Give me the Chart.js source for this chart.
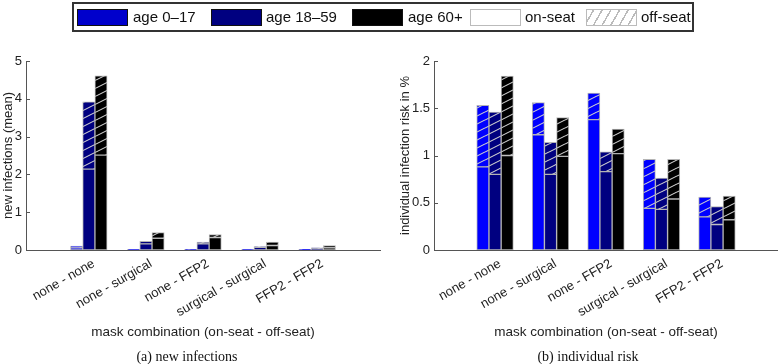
<!DOCTYPE html>
<html>
<head>
<meta charset="utf-8">
<script src="https://cdn.jsdelivr.net/npm/chart.js@4/dist/chart.umd.min.js"></script>
<style>
  body { margin: 0; background: #fff; }
  #wrap { position: relative; width: 778px; height: 364px; overflow: hidden; font-family: "Liberation Sans", Arial, sans-serif; }
  canvas { position: absolute; top: 0; }
  #legend { position: absolute; left: 72px; top: 2px; width: 622px; height: 30px; box-sizing: border-box; border: 2px solid #333; }
  .sw { position: absolute; top: 5px; width: 51px; height: 17px; box-sizing: border-box; }
  .lt { position: absolute; top: 4px; font-size: 15px; line-height: 18px; color: #111; white-space: nowrap; }
  .cap { position: absolute; top: 349px; width: 240px; text-align: center; font-family: "Liberation Serif", "Times New Roman", serif; font-size: 14px; line-height: 16px; color: #111; }
</style>
</head>
<body>
<div id="wrap">
  <canvas id="infChart" width="389" height="364" style="left:0"></canvas>
  <canvas id="riskChart" width="389" height="364" style="left:389px"></canvas>
  <div id="legend">
    <div class="sw" style="left:3px;background:#0000cc;border:1.5px solid #111"></div><div class="lt" style="left:59px">age 0–17</div>
    <div class="sw" style="left:137px;background:#000080;border:1.5px solid #111"></div><div class="lt" style="left:192px">age 18–59</div>
    <div class="sw" style="left:278px;background:#000;border:1.5px solid #111"></div><div class="lt" style="left:334px">age 60+</div>
    <div class="sw" style="left:396px;background:#fff;border:1.5px solid #bbb"></div><div class="lt" style="left:451px">on-seat</div>
    <div class="sw" style="left:512px;border:1.5px solid #bbb;background:repeating-linear-gradient(-60deg,#fff 0 6px,#bbb 6px 7.5px)"></div><div class="lt" style="left:567px">off-seat</div>
  </div>
  <div class="cap" style="left:67px">(a) new infections</div>
  <div class="cap" style="left:468px">(b) individual risk</div>
</div>
<script>
const categories = ['none - none', 'none - surgical', 'none - FFP2', 'surgical - surgical', 'FFP2 - FFP2'];
const ageGroups = ['age 0–17', 'age 18–59', 'age 60+'];
const ageColors = ['#0000ff', '#000080', '#000000'];

// (a) new infections (mean), split into on-seat and off-seat part
const infOnSeat = [
  [0.06, 0.01, 0.01, 0.01, 0.01],
  [2.14, 0.16, 0.16, 0.07, 0.04],
  [2.51, 0.31, 0.33, 0.12, 0.06]
];
const infOffSeat = [
  [0.045, 0.005, 0.005, 0.005, 0.01],
  [1.78, 0.07, 0.05, 0.02, 0.02],
  [2.10, 0.15, 0.08, 0.09, 0.06]
];

// (b) individual infection risk in %
const riskOnSeat = [
  [0.88, 1.22, 1.38, 0.44, 0.35],
  [0.80, 0.80, 0.83, 0.43, 0.27],
  [1.00, 0.99, 1.02, 0.54, 0.32]
];
const riskOffSeat = [
  [0.65, 0.34, 0.28, 0.52, 0.21],
  [0.66, 0.34, 0.21, 0.33, 0.19],
  [0.84, 0.41, 0.26, 0.42, 0.25]
];

const infTicks = [0, 1, 2, 3, 4, 5];
const riskTicks = [0, 0.5, 1, 1.5, 2];

const axisColor = '#555';
const edgeColor = '#b4b4b4';

function hatch(color) {
  const c = document.createElement('canvas');
  c.width = 16; c.height = 8;
  const g = c.getContext('2d');
  g.fillStyle = color;
  g.fillRect(0, 0, 16, 8);
  g.strokeStyle = '#cfcfcf';
  g.lineWidth = 1.1;
  for (let k = 0; k < 3; k++) {
    g.beginPath();
    g.moveTo(0, 8 * k);
    g.lineTo(16, 8 * k - 8);
    g.stroke();
  }
  return g.createPattern(c, 'repeat');
}

function toPoints(values) {
  return values.map((v, i) => ({x: i + 1, y: v}));
}

function buildDatasets(onSeat, offSeat) {
  const sets = [];
  ageGroups.forEach((age, a) => {
    sets.push({
      label: age + ' on-seat', stack: 'a' + a,
      data: toPoints(onSeat[a]),
      backgroundColor: ageColors[a]
    });
    sets.push({
      label: age + ' off-seat', stack: 'a' + a,
      data: toPoints(offSeat[a]),
      backgroundColor: hatch(ageColors[a])
    });
  });
  return sets;
}

// short inward tick marks on the y axis, like the original
const innerTicks = {
  id: 'innerTicks',
  afterDraw(chart) {
    const ctx = chart.ctx;
    const y = chart.scales.y;
    const left = chart.chartArea.left;
    ctx.save();
    ctx.strokeStyle = axisColor;
    ctx.lineWidth = 1;
    y.ticks.forEach(t => {
      const py = Math.round(y.getPixelForValue(t.value)) + 0.5;
      ctx.beginPath();
      ctx.moveTo(left, py);
      ctx.lineTo(left + 4, py);
      ctx.stroke();
    });
    ctx.restore();
  }
};

function makeChart(id, onSeat, offSeat, yTicks, yTitle, yWidth, titlePad, padRight) {
  const yMax = yTicks[yTicks.length - 1];
  return new Chart(document.getElementById(id).getContext('2d'), {
    type: 'bar',
    data: { datasets: buildDatasets(onSeat, offSeat) },
    options: {
      responsive: false,
      animation: false,
      layout: { padding: { top: 61, right: padRight, bottom: 24, left: 0 } },
      datasets: {
        bar: {
          barThickness: 12.2,
          borderColor: edgeColor,
          borderWidth: 1,
          borderSkipped: false
        }
      },
      plugins: { legend: { display: false }, tooltip: { enabled: false } },
      scales: {
        x: {
          type: 'linear',
          offset: false,
          min: -0.1,
          max: 6.1,
          grid: { display: false, drawTicks: false, offset: false },
          border: { display: true, color: axisColor, width: 1 },
          afterBuildTicks: scale => { scale.ticks = categories.map((c, i) => ({value: i + 1})); },
          afterFit: scale => { scale.height = 90; },
          ticks: {
            autoSkip: false,
            minRotation: 30,
            maxRotation: 30,
            padding: 6,
            labelOffset: 5,
            color: '#222',
            font: { family: 'Liberation Sans', size: 13 },
            callback: v => categories[v - 1] || ''
          },
          title: {
            display: true,
            text: 'mask combination (on-seat - off-seat)',
            color: '#222',
            font: { family: 'Liberation Sans', size: 13.5 },
            padding: { top: 0, bottom: 0 }
          }
        },
        y: {
          stacked: true,
          min: 0,
          max: yMax,
          grid: { display: false, drawTicks: false },
          border: { display: true, color: axisColor, width: 1 },
          afterBuildTicks: scale => { scale.ticks = yTicks.map(v => ({value: v})); },
          afterFit: scale => { scale.width = yWidth; },
          ticks: {
            padding: 4,
            color: '#222',
            font: { family: 'Liberation Sans', size: 13 },
            callback: v => String(v)
          },
          title: {
            display: true,
            text: yTitle,
            color: '#222',
            font: { family: 'Liberation Sans', size: 13 },
            padding: { top: titlePad, bottom: 0 }
          }
        }
      }
    },
    plugins: [innerTicks]
  });
}

makeChart('infChart', infOnSeat, infOffSeat, infTicks, 'new infections (mean)', 26, 1, 9);
makeChart('riskChart', riskOnSeat, riskOffSeat, riskTicks, 'individual infection risk in %', 45, 9, 0);
</script>
</body>
</html>
